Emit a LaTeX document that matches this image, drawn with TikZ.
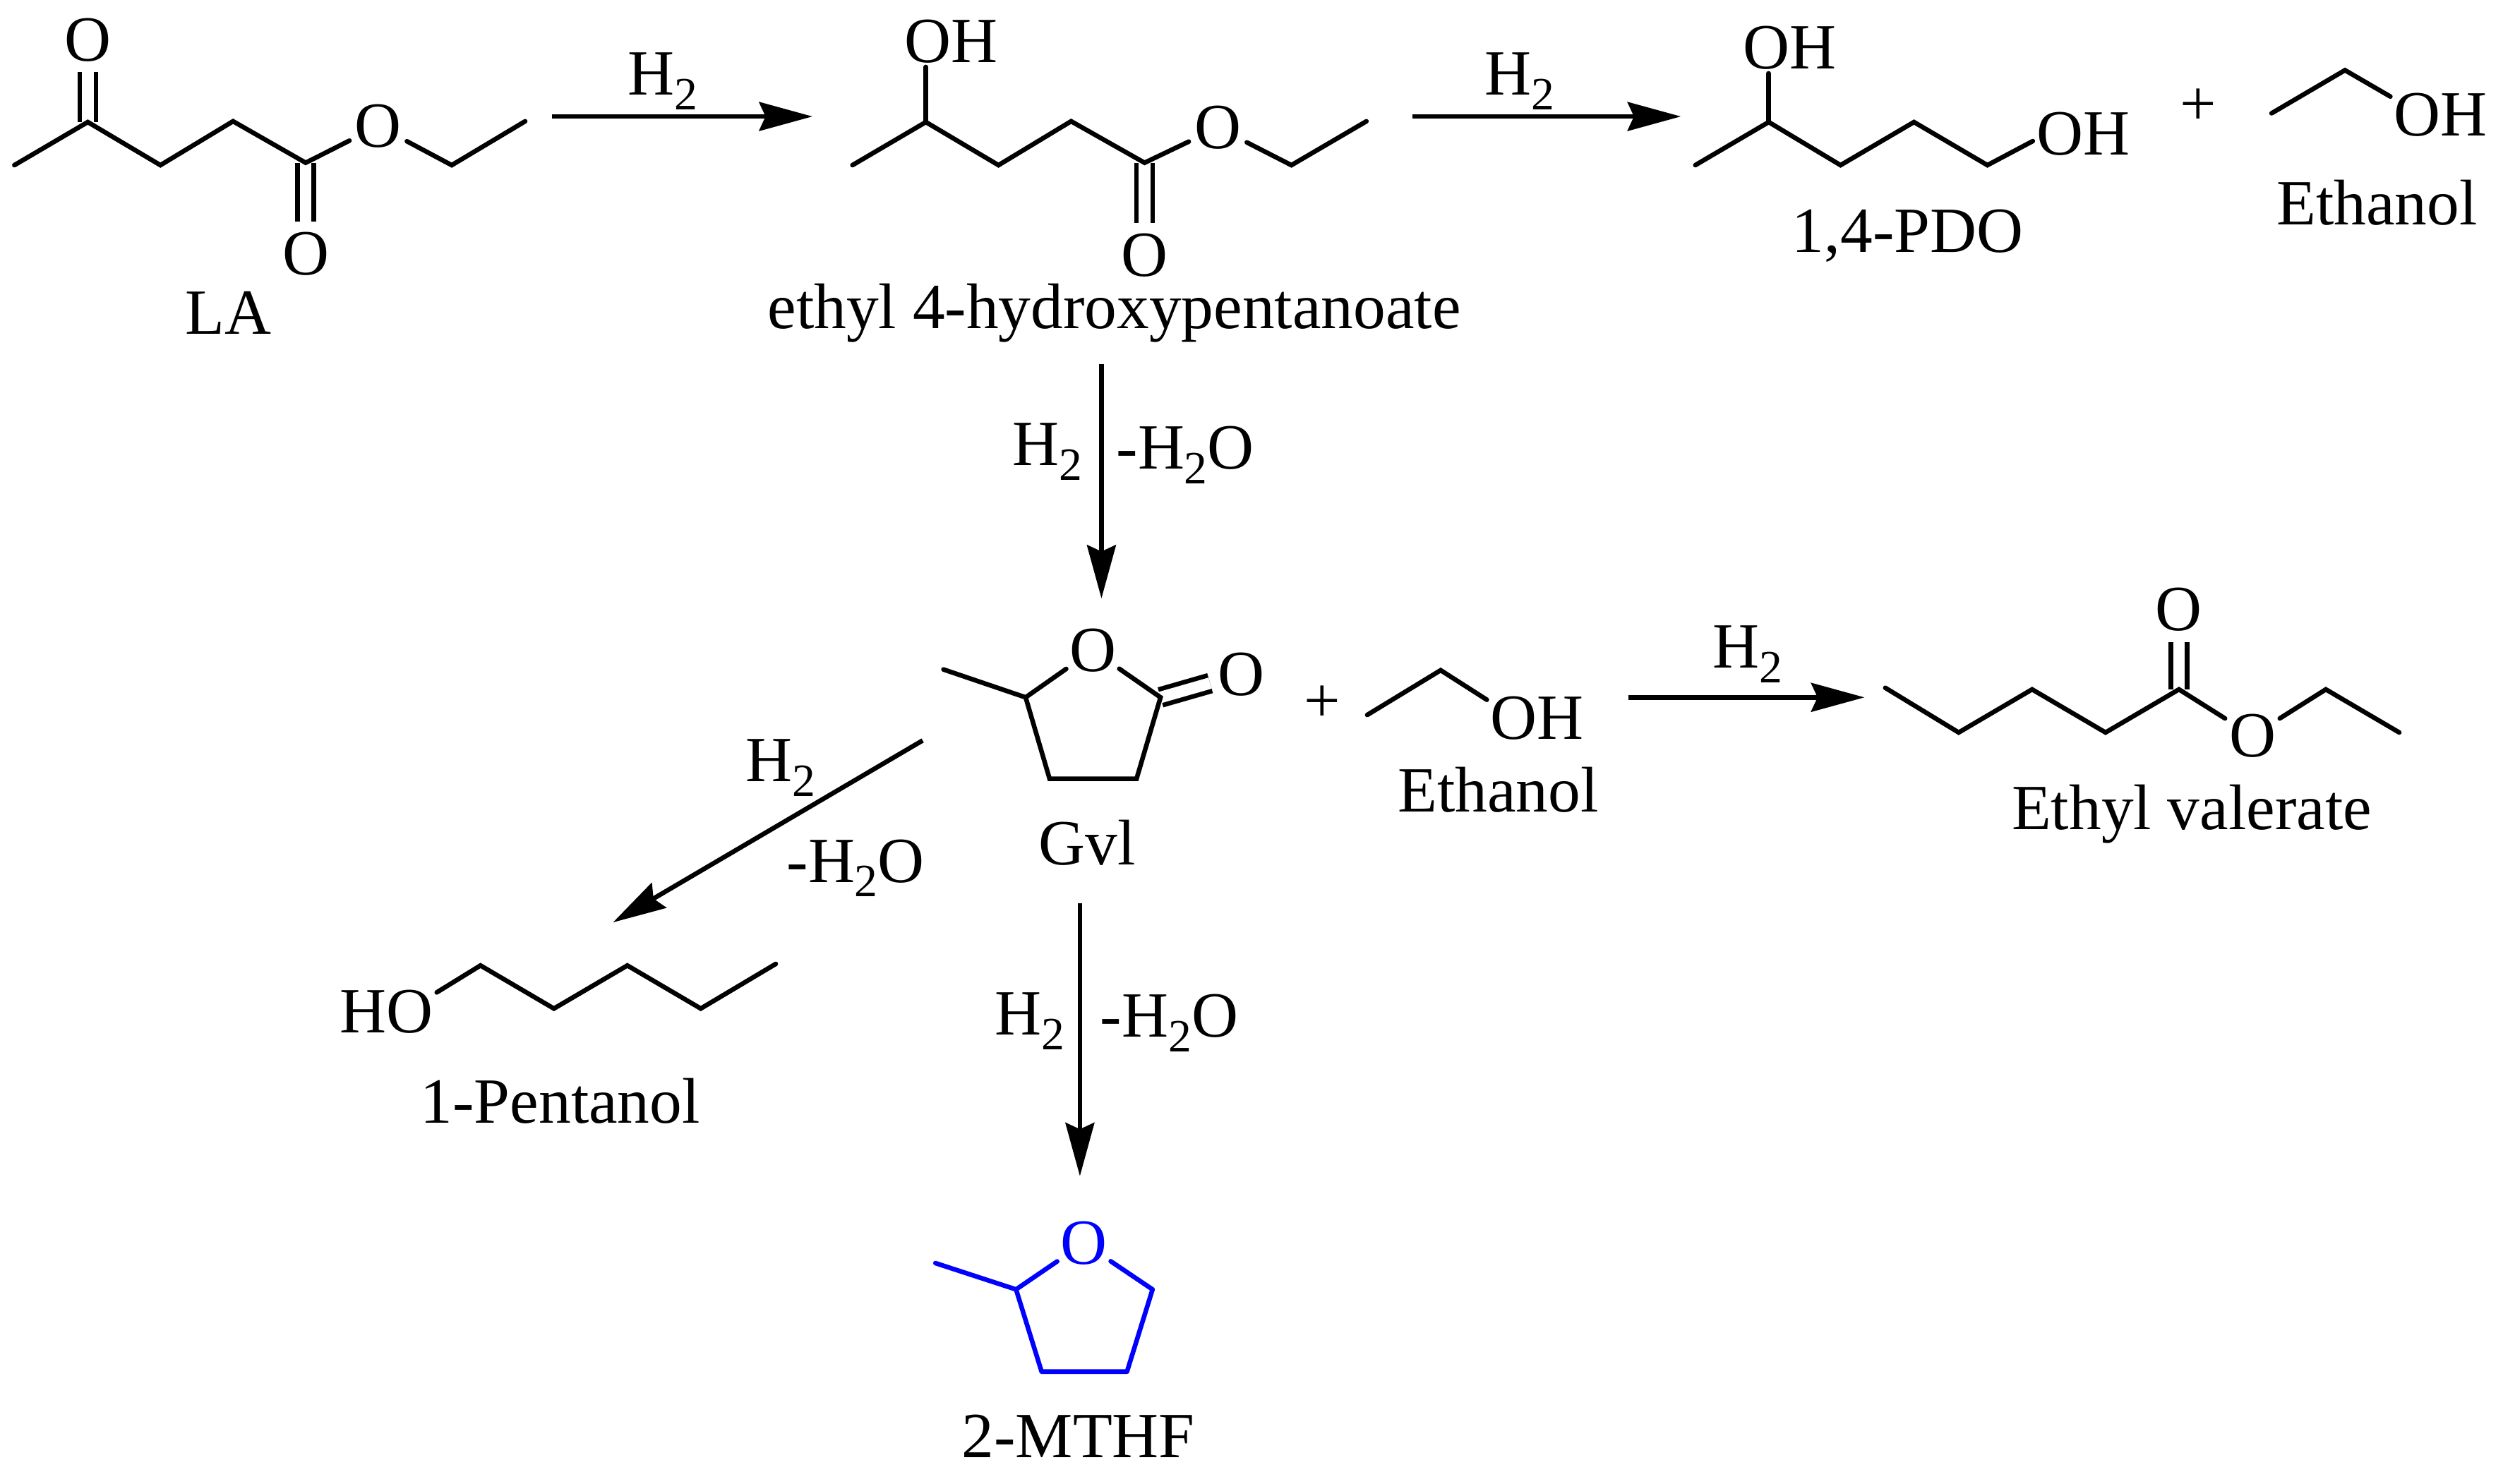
\documentclass[tikz,border=0pt]{standalone}
\usepackage{fontspec}
\setmainfont{Liberation Serif}
\usetikzlibrary{arrows.meta}
\newcommand{\tsub}[1]{\raisebox{-4.6pt}{\fontsize{14.5}{14.5}\selectfont #1}}
\newcommand{\Hii}{H\tsub{2}}
\tikzset{
	every node/.style={font=\fontsize{20.2}{22}\selectfont},
	bond/.style={line width=1.45pt,line cap=round},
	dbond/.style={line width=1.45pt,double,double distance=3.6pt},
	rxn/.style={line width=1.45pt,-{Stealth[length=16.7pt,width=9pt,inset=2pt]}},
	atom/.style={circle,inner sep=0pt},
	oh/.style={rectangle,inner sep=1pt},
	lab/.style={inner sep=0pt},
}
\begin{document}
\begin{tikzpicture}[x=0.5pt,y=-0.5pt]
	\useasboundingbox (0,0) rectangle (1568,929.5);
	% LA
	\coordinate (la1) at (9,103.5);
	\coordinate (la2) at (55,76.5);
	\coordinate (la3) at (100.5,103.5);
	\coordinate (la4) at (146,76);
	\coordinate (la5) at (191.5,102);
	\coordinate (la6) at (283,103.5);
	\coordinate (la7) at (329,76);
	\node[atom] (laOa) at (55,25) {O};
	\node[atom] (laOb) at (191.5,159) {O};
	\node[atom] (laOc) at (237,79) {O};
	\draw[dbond] (la2) -- (laOa);
	\draw[dbond] (la5) -- (laOb);
	\draw[bond] (la1) -- (la2) -- (la3) -- (la4) -- (la5) -- (laOc);
	\draw[bond] (laOc) -- (la6) -- (la7);
	\node[lab] (laName) at (143,196) {LA};
	% ethyl 4-hydroxypentanoate
	\coordinate (hp1) at (534,103.5);
	\coordinate (hp2) at (580,76.5);
	\coordinate (hp3) at (625.5,103.5);
	\coordinate (hp4) at (671,76);
	\coordinate (hp5) at (717,102);
	\coordinate (hp6) at (809,103.5);
	\coordinate (hp7) at (856,76);
	\node[oh] (hpOH) at (596,26) {OH};
	\node[atom] (hpOb) at (717,160) {O};
	\node[atom] (hpOc) at (763,80) {O};
	\draw[dbond] (hp5) -- (hpOb);
	\draw[bond] (hp2) -- (hp2 |- hpOH.south);
	\draw[bond] (hp1) -- (hp2) -- (hp3) -- (hp4) -- (hp5) -- (hpOc);
	\draw[bond] (hpOc) -- (hp6) -- (hp7);
	\node[lab] (hpName) at (698,196) {ethyl 4-hydroxypentanoate};
	% 1,4-PDO + ethanol
	\coordinate (pd1) at (1062,103.5);
	\coordinate (pd2) at (1108,76.5);
	\coordinate (pd3) at (1153,103.5);
	\coordinate (pd4) at (1199,76.5);
	\coordinate (pd5) at (1245,103.5);
	\node[oh] (pdOHa) at (1121,30) {OH};
	\node[oh] (pdOHb) at (1305,84) {OH};
	\draw[bond] (pd2) -- (pd2 |- pdOHa.south);
	\draw[bond] (pd1) -- (pd2) -- (pd3) -- (pd4) -- (pd5) -- (pdOHb.188);
	\node[lab] (pdName) at (1195,148) {1,4-PDO};
	\node[lab] (plusA) at (1377,67) {+};
	\coordinate (eta1) at (1423,71);
	\coordinate (eta2) at (1469,44);
	\node[oh] (etaOH) at (1529,72) {OH};
	\draw[bond] (eta1) -- (eta2) -- (etaOH.160);
	\node[lab] (etaName) at (1489,127) {Ethanol};
	% Gvl + ethanol
	\coordinate (gv1) at (591,419.5);
	\coordinate (gv2) at (642.5,437);
	\coordinate (gv3) at (657.5,488);
	\coordinate (gv4) at (712,488);
	\coordinate (gv5) at (727,437);
	\node[atom] (gvO) at (684.5,407.5) {O};
	\node[atom] (gvOb) at (777.5,422.5) {O};
	\draw[dbond] (gv5) -- (gvOb);
	\draw[bond] (gv1) -- (gv2) -- (gvO);
	\draw[bond] (gvO) -- (gv5) -- (gv4) -- (gv3) -- (gv2);
	\node[lab] (gvName) at (681,528) {Gvl};
	\node[lab] (plusB) at (828.5,441) {+};
	\coordinate (etb1) at (856.5,448);
	\coordinate (etb2) at (902.5,420);
	\node[oh] (etbOH) at (963,450) {OH};
	\draw[bond] (etb1) -- (etb2) -- (etbOH.160);
	\node[lab] (etbName) at (938.5,495) {Ethanol};
	% Ethyl valerate
	\coordinate (ev1) at (1181,431);
	\coordinate (ev2) at (1227,459);
	\coordinate (ev3) at (1273,432);
	\coordinate (ev4) at (1319,459);
	\coordinate (ev5) at (1365,432);
	\coordinate (ev6) at (1457,432);
	\coordinate (ev7) at (1503,459);
	\node[atom] (evOa) at (1365,382) {O};
	\node[atom] (evOb) at (1411,461) {O};
	\draw[dbond] (ev5) -- (evOa);
	\draw[bond] (ev1) -- (ev2) -- (ev3) -- (ev4) -- (ev5) -- (evOb);
	\draw[bond] (evOb) -- (ev6) -- (ev7);
	\node[lab] (evName) at (1373,510) {Ethyl valerate};
	% 1-Pentanol
	\node[oh] (peOH) at (242,634) {HO};
	\coordinate (pe1) at (301,605);
	\coordinate (pe2) at (347,632);
	\coordinate (pe3) at (393,605);
	\coordinate (pe4) at (439,632);
	\coordinate (pe5) at (486,604);
	\draw[bond] (peOH.21) -- (pe1) -- (pe2) -- (pe3) -- (pe4) -- (pe5);
	\node[lab] (peName) at (351,690) {1-Pentanol};
	% 2-MTHF
	\begin{scope}[blue]
		\coordinate (mt1) at (586,791.5);
		\coordinate (mt2) at (636.5,808);
		\coordinate (mt3) at (652.5,859.5);
		\coordinate (mt4) at (706,859.5);
		\coordinate (mt5) at (722,808);
		\node[atom] (mtO) at (679,779) {O};
		\draw[bond] (mt1) -- (mt2) -- (mtO);
		\draw[bond,line join=round] (mtO) -- (mt5) -- (mt4) -- (mt3) -- (mt2);
	\end{scope}
	\node[lab] (mtName) at (675.5,900) {2-MTHF};
	% arrows
	\coordinate (a1s) at (346,73);
	\coordinate (a1e) at (509,73);
	\coordinate (a2s) at (885,73);
	\coordinate (a2e) at (1053,73);
	\coordinate (a3s) at (690,228);
	\coordinate (a3e) at (690,375);
	\coordinate (a4s) at (1020,437);
	\coordinate (a4e) at (1168,437);
	\coordinate (a5s) at (578,464);
	\coordinate (a5e) at (384,578);
	\coordinate (a6s) at (676.5,566);
	\coordinate (a6e) at (676.5,737);
	\draw[rxn] (a1s) -- (a1e);
	\draw[rxn] (a2s) -- (a2e);
	\draw[rxn] (a3s) -- (a3e);
	\draw[rxn] (a4s) -- (a4e);
	\draw[rxn] (a5s) -- (a5e);
	\draw[rxn] (a6s) -- (a6e);
	\node[lab] (h2a) at (415,51) {\Hii};
	\node[lab] (h2b) at (952,51) {\Hii};
	\node[lab] (h2c) at (656,283) {\Hii};
	\node[lab] (h2oc) at (742.5,285) {-\Hii O};
	\node[lab] (h2d) at (1095,410) {\Hii};
	\node[lab] (h2e) at (489,481) {\Hii};
	\node[lab] (h2oe) at (536,544) {-\Hii O};
	\node[lab] (h2f) at (645,640) {\Hii};
	\node[lab] (h2of) at (732.5,641) {-\Hii O};
\end{tikzpicture}
\end{document}
